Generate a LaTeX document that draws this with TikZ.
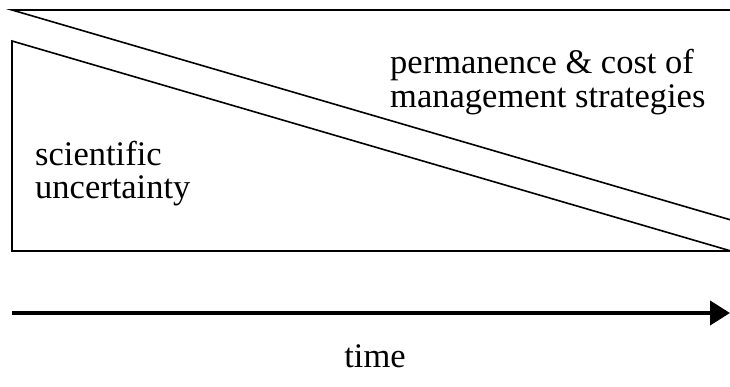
\documentclass[tikz,border=0pt]{standalone}
\usepackage{fontspec}
\setmainfont{Liberation Serif}
\usetikzlibrary{arrows.meta}
\begin{document}
\begin{tikzpicture}[x=1pt,y=-1pt,
  edge/.style={line width=1.6pt,line join=miter},
  timeline/.style={line width=4pt,-{Triangle[length=20pt,width=24pt]}},
  label/.style={font=\fontsize{34.5}{34.5}\selectfont,inner sep=0pt,anchor=base west,align=left}]
  \useasboundingbox (0,0) rectangle (730,387);
  % upper wedge: permanence & cost
  \coordinate (tl) at (12,10);
  \coordinate (tr) at (731,10);
  \coordinate (mr) at (731,220);
  \draw[edge] (tr) -- (tl) -- (mr);
  % lower wedge: scientific uncertainty
  \coordinate (ul) at (12,41);
  \coordinate (bl) at (12,251);
  \coordinate (br) at (731,251);
  \draw[edge] (ul) -- (bl) -- (br) -- cycle;
  % time axis
  \coordinate (t0) at (12,313);
  \coordinate (t1) at (730,313);
  \draw[timeline] (t0) -- (t1);
  % labels
  \node[label] (perm) at (390,74) {permanence \& cost of};
  \node[label] (mgmt) at (390,108) {management strategies};
  \node[label] (sci) at (35,166) {scientific};
  \node[label] (unc) at (35,199) {uncertainty};
  \node[label,anchor=base] (time) at (375,367) {time};
\end{tikzpicture}
\end{document}
